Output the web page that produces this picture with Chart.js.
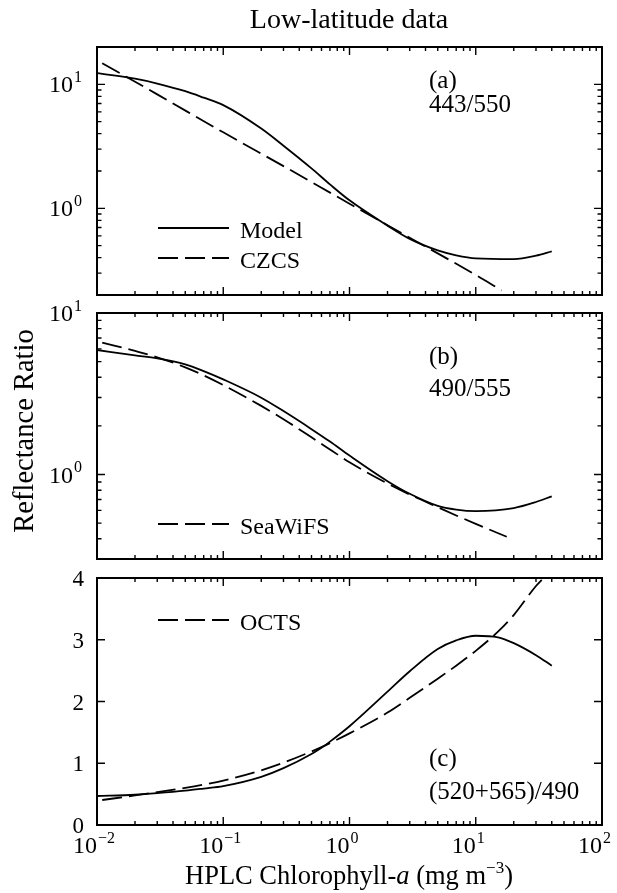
<!DOCTYPE html>
<html><head><meta charset="utf-8">
<script src="https://cdn.jsdelivr.net/npm/chart.js@4.4.1/dist/chart.umd.min.js"></script>
<style>
html,body{margin:0;padding:0;background:#fff;}
#wrap{position:relative;width:617px;height:893px;background:#fff;}
canvas{position:absolute;left:0;top:0;}
</style></head><body>
<div id="wrap">
<canvas id="ca" width="617" height="893"></canvas>
<canvas id="cb" width="617" height="893"></canvas>
<canvas id="cc" width="617" height="893"></canvas>
</div>
<script>
// ---------- data ----------
const chlModel = [0.01,0.02,0.03,0.05,0.07,0.1,0.2,0.3,0.5,0.7,1,2,3,5,7,10,20,30,40];
const modelA   = [12.3,11.1,10.15,8.8,7.8,6.8,4.4,3.2,2.10,1.56,1.16,0.725,0.567,0.458,0.418,0.395,0.39,0.415,0.45];
const chlCZCS  = [0.011,0.03,0.1,0.3,1,3,10,16];
const czcsA    = [14.8,8.3,4.1,2.19,1.09,0.58,0.29,0.218];

const modelB     = [5.9,5.47,5.24,4.81,4.37,3.88,2.99,2.47,1.91,1.60,1.31,0.91,0.76,0.64,0.607,0.594,0.62,0.676,0.733];
const chlSeaWiFS = [0.011,0.02,0.03,0.05,0.07,0.1,0.2,0.3,0.5,0.7,1,2,3,5,7,10,17.6];
const seawifsB   = [6.56,5.82,5.32,4.61,4.11,3.58,2.66,2.20,1.70,1.43,1.19,0.88,0.752,0.628,0.558,0.495,0.412];

const chlModelC = [0.01,0.02,0.03,0.05,0.07,0.1,0.2,0.3,0.5,0.6,0.7,1,2,3,5,7,10,15,20,30,40];
const modelC    = [0.47,0.49,0.515,0.555,0.59,0.63,0.78,0.92,1.15,1.25,1.35,1.60,2.16,2.49,2.85,2.99,3.065,3.04,2.945,2.75,2.58];
const chlOCTS   = [0.011,0.02,0.03,0.05,0.07,0.1,0.2,0.3,0.5,0.6,0.7,1,2,3,5,7,10,15,20,30,34.5];
const octsC     = [0.405,0.478,0.531,0.602,0.655,0.72,0.886,1.009,1.191,1.262,1.326,1.484,1.821,2.06,2.37,2.58,2.82,3.13,3.40,3.87,4.0];

// ---------- tick labels ----------
const xTickValues = [0.01,0.1,1,10,100];
const xTickExps   = ['\u22122','\u22121','0','1','2'];
const yLogTickValues = [1,10];
const yLogTickExps   = ['0','1'];
const yLinTickValues = [0,1,2,3,4];
const yLinTickLabels = ['0','1','2','3','4'];

// ---------- texts ----------
const mainTitle = 'Low-latitude data';
const yTitle = 'Reflectance Ratio';
const panelTexts = [['(a)','443/550'],['(b)','490/555'],['(c)','(520+565)/490']];

const FONT = '"Liberation Serif","Times New Roman",serif';
const f = s => s + 'px ' + FONT;

function pairs(xs, ys){ return xs.map((x,i)=>({x:x,y:ys[i]})); }

function drawPow(ctx, exp, x, y, mode, size){
  ctx.textAlign='left'; ctx.textBaseline='alphabetic';
  ctx.font = f(size); const wb = ctx.measureText('10').width;
  const es = Math.round(size*0.66);
  ctx.font = f(es); const we = ctx.measureText(exp).width;
  let x0;
  if (mode==='right') x0 = x - wb - we - 1;
  else x0 = x - wb; // base ends at x
  ctx.font = f(size); ctx.fillText('10', x0, y);
  ctx.font = f(es); ctx.fillText(exp, x0 + wb + 1, y - size*0.42);
}

function minorLog(from, to){
  const out=[]; for(let d=from; d<to*0.999; d*=10){ for(let k=2;k<=9;k++) out.push(k*d); } return out;
}

function panelPlugin(cfg){
  return {
    id:'panel'+cfg.idx,
    afterDraw(chart){
      const ctx = chart.ctx, a = chart.chartArea, sx = chart.scales.x, sy = chart.scales.y;
      ctx.save();
      ctx.strokeStyle='#000'; ctx.fillStyle='#000';
      // ticks
      ctx.lineWidth = 1.4;
      const tickX = (v, len) => { const p = sx.getPixelForValue(v);
        ctx.beginPath(); ctx.moveTo(p,a.top); ctx.lineTo(p,a.top+len);
        ctx.moveTo(p,a.bottom); ctx.lineTo(p,a.bottom-len); ctx.stroke(); };
      const tickY = (v, len) => { const p = sy.getPixelForValue(v);
        ctx.beginPath(); ctx.moveTo(a.left,p); ctx.lineTo(a.left+len,p);
        ctx.moveTo(a.right,p); ctx.lineTo(a.right-len,p); ctx.stroke(); };
      xTickValues.forEach(v=>tickX(v,8));
      minorLog(0.01,100).forEach(v=>tickX(v,4));
      cfg.yMajor.forEach(v=>tickY(v,8));
      cfg.yMinor.forEach(v=>tickY(v,4.5));
      // frame
      ctx.lineWidth = 2;
      ctx.strokeRect(a.left, a.top, a.right-a.left, a.bottom-a.top);
      // y labels
      if (cfg.yLog){
        yLogTickValues.forEach((v,i)=>{ drawPow(ctx, yLogTickExps[i], 82, sy.getPixelForValue(v)+8, 'right', 24); });
      } else {
        ctx.font = f(23); ctx.textAlign='right'; ctx.textBaseline='alphabetic';
        yLinTickValues.forEach((v,i)=>{ ctx.fillText(yLinTickLabels[i], 84, sy.getPixelForValue(v)+8); });
      }
      // x labels
      if (cfg.xLabels){
        xTickValues.forEach((v,i)=>{ drawPow(ctx, xTickExps[i], sx.getPixelForValue(v), 853, 'base', 24); });
      }
      // panel text
      ctx.font = f(25); ctx.textAlign='left'; ctx.textBaseline='alphabetic';
      ctx.fillText(cfg.text[0], 429, cfg.textY[0]);
      ctx.fillText(cfg.text[1], 429, cfg.textY[1]);
      // legend
      ctx.font = f(24);
      cfg.legend.forEach(it=>{
        ctx.lineWidth = 1.8; ctx.setLineDash(it.dash);
        ctx.beginPath(); ctx.moveTo(158, it.y); ctx.lineTo(229, it.y); ctx.stroke();
        ctx.setLineDash([]);
        ctx.fillText(it.label, 240, it.y + 10);
      });
      // global texts
      if (cfg.globals){
        ctx.textAlign='center';
        ctx.font = f(28); ctx.fillText(mainTitle, 349, 28);
        ctx.save(); ctx.translate(33, 431); ctx.rotate(-Math.PI/2);
        ctx.font = f(28.5); ctx.fillText(yTitle, 0, 0); ctx.restore();
        // x title with italic a and superscript
        const s = 26.5;
        const parts = [
          {t:'HPLC Chlorophyll-', font:f(s), dy:0},
          {t:'a', font:'italic '+f(s), dy:0},
          {t:' (mg m', font:f(s), dy:0},
          {t:'\u22123', font:f(17), dy:-11},
          {t:')', font:f(s), dy:0}
        ];
        let tw = 0; parts.forEach(p=>{ ctx.font=p.font; p.w=ctx.measureText(p.t).width; tw+=p.w; });
        let x = 349 - tw/2; ctx.textAlign='left';
        parts.forEach(p=>{ ctx.font=p.font; ctx.fillText(p.t, x, 884+p.dy); x+=p.w; });
      }
      ctx.restore();
    }
  };
}

const DASH = [20,7];
function makeChart(id, pad, yScale, datasets, cfg){
  return new Chart(document.getElementById(id), {
    type:'line',
    data:{datasets:datasets},
    options:{
      responsive:false, animation:false, devicePixelRatio:1,
      layout:{padding:pad},
      scales:{
        x:{type:'logarithmic', min:0.01, max:100, display:false},
        y:Object.assign({display:false}, yScale)
      },
      plugins:{legend:{display:false}, tooltip:{enabled:false}, title:{display:false}},
      elements:{point:{radius:0}, line:{borderWidth:1.8, borderColor:'#000', cubicInterpolationMode:'monotone', fill:false}}
    },
    plugins:[panelPlugin(cfg)]
  });
}

const lineDs = (label, xs, ys, dash) => ({label:label, data:pairs(xs,ys), borderColor:'#000', borderWidth:1.8, borderDash:dash, pointRadius:0, fill:false, cubicInterpolationMode:'monotone'});

makeChart('ca', {left:97,right:15,top:47,bottom:598},
  {type:'logarithmic', min:0.2, max:20},
  [lineDs('Model', chlModel, modelA, []), lineDs('CZCS', chlCZCS, czcsA, DASH)],
  {idx:0, yLog:true, yMajor:[1,10], yMinor:minorLog(0.1,10).filter(v=>v>0.15),
   text:panelTexts[0], textY:[88,112], legend:[{label:'Model',dash:[],y:228},{label:'CZCS',dash:DASH,y:258}], globals:true});

makeChart('cb', {left:97,right:15,top:313,bottom:334},
  {type:'logarithmic', min:0.3, max:10},
  [lineDs('Model', chlModel, modelB, []), lineDs('SeaWiFS', chlSeaWiFS, seawifsB, DASH)],
  {idx:1, yLog:true, yMajor:[1,10], yMinor:minorLog(0.1,10).filter(v=>v>0.25),
   text:panelTexts[1], textY:[364,396], legend:[{label:'SeaWiFS',dash:DASH,y:524}]});

makeChart('cc', {left:97,right:15,top:578,bottom:68},
  {type:'linear', min:0, max:4},
  [lineDs('Model', chlModelC, modelC, []), lineDs('OCTS', chlOCTS, octsC, DASH)],
  {idx:2, yLog:false, yMajor:[1,2,3], yMinor:[], xLabels:true,
   text:panelTexts[2], textY:[766,799], legend:[{label:'OCTS',dash:DASH,y:620}]});
</script>
</body></html>
